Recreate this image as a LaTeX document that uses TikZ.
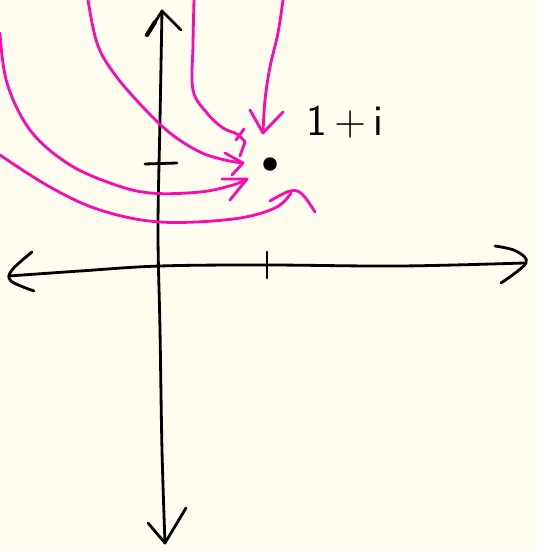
\documentclass[tikz,border=0pt]{standalone}
\definecolor{paper}{RGB}{254,252,239}
\definecolor{pen}{RGB}{252,10,172}
\tikzset{sketch/.style={
  x=0.02cm, y=-0.02cm,
  axisline/.style={line width=1.6pt, line cap=round, line join=round},
  curve/.style={pen, line width=1.6pt, line cap=round, line join=round},
  dot/.style={circle, fill=black, draw=none, minimum size=0.27cm, inner sep=0pt},
  lbl/.style={font=\fontsize{25}{25}\selectfont\sffamily, inner sep=0pt},
}}

\begin{document}
\begin{tikzpicture}[sketch]
% ---- paper ----
\fill[paper] (0,0) rectangle (537,551);
\useasboundingbox (0,0) rectangle (537,551);

% ---- axes ----
\draw[axisline] plot[smooth, tension=0.6] coordinates {(162,11) (160,120) (158,230) (160,330) (162,450) (165,543)};
\draw[axisline] (147,35) -- (162,11) -- (181,30);
\draw[axisline, line width=2.4pt] (147,35) -- (155,22);
\draw[axisline] (148,523) -- (165,543) -- (186,508);
\draw[axisline] plot[smooth, tension=0.6] coordinates {(9,276) (80,271) (160,266) (267,265) (400,266) (524,263)};
\draw[axisline] plot[smooth, tension=0.6] coordinates {(32,252) (12,270) (11,281) (34,291)};
\draw[axisline] plot[smooth, tension=0.6] coordinates {(495,246) (516,251) (526,263) (501,283)};

% ---- unit ticks ----
\draw[axisline] (267,252) -- (267,278);
\draw[axisline] (145,164) -- (177,163);

% ---- the point 1+i ----
\node[dot] (pt) at (270,164) {};
\node[lbl] (lab) at (345,122) {1\,+\,i};

% ---- paths approaching the point ----
% A: from the far left
\draw[curve] plot[smooth, tension=0.6] coordinates {(0,33) (7,83) (30,130) (67,163) (110,183) (150,193) (200,192) (233,185) (247,179)};
\draw[curve] (222,179) -- (247,179) -- (230,200);
% B
\draw[curve] plot[smooth, tension=0.6] coordinates {(88,0) (97,43) (113,72) (140,104) (170,133) (200,152) (225,160) (243,163)};
\draw[curve] (225,153) -- (243,163) -- (232,175);
% C
\draw[curve] plot[smooth, tension=0.6] coordinates {(194,0) (193,45) (193,90) (207,113) (223,128) (237,134) (245,142)};
\draw[curve] (245,142) -- (240,156);
\draw[curve] (236,140) -- (244,129);
% D: from below-left, hooking back
\draw[curve] plot[smooth, tension=0.6] coordinates {(0,155) (50,187) (100,210) (160,222) (233,219) (275,208) (291,193)};
\draw[curve] plot[smooth, tension=0.6] coordinates {(270,201) (290,191) (302,194) (315,212)};
% E: straight down from above
\draw[curve] plot[smooth, tension=0.6] coordinates {(283,0) (278,33) (270,67) (265,100) (263,133)};
\draw[curve] (250,110) -- (263,133) -- (283,112);
\end{tikzpicture}
\end{document}
